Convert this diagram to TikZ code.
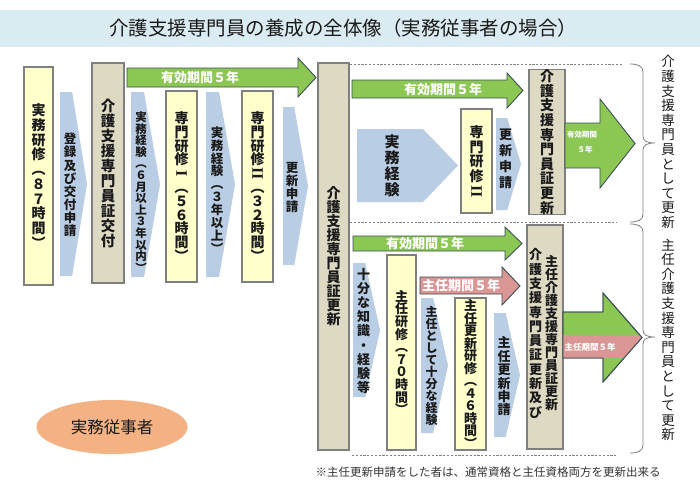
\documentclass[tikz,border=0pt]{standalone}
\usepackage{fontspec}
\setmainfont{Noto Sans CJK JP}
\newfontfamily\romanfont{Liberation Serif}
\usetikzlibrary{shapes.geometric}
\definecolor{ttl}{HTML}{DAEBF1}
\definecolor{ylw}{HTML}{FFFFCC}
\definecolor{tanc}{HTML}{DDD9C3}
\definecolor{chv}{HTML}{B9CDE5}
\definecolor{grn}{HTML}{8CC653}
\definecolor{pnk}{HTML}{D99694}
\definecolor{peach}{HTML}{F4B183}
\definecolor{bord}{HTML}{7F7F7F}
\definecolor{abord}{HTML}{3A4F55}
\definecolor{txt}{HTML}{1A1A1A}
\makeatletter
\def\vstack#1{\vstack@a#1\@nil}
\def\vstack@a#1{#1\vstack@b}
\def\vstack@b#1{\ifx\@nil#1\expandafter\@gobble\else\expandafter\@firstofone\fi{\\#1\vstack@b}}
\makeatother
\newcommand\rI{\smash{\rotatebox[origin=c]{-90}{\romanfont\bfseries\fontsize{16}{16}\selectfont I}}}
\newcommand\rII{\smash{\rotatebox[origin=c]{-90}{\romanfont\bfseries\fontsize{16}{16}\selectfont II}}}
% chevron: x1 y1 x2 y2
\newcommand\chev[4]{\fill[chv] (#1,#2) -- ({#1+0.45*(#3-#1)},#2) -- (#3,{(#2+#4)/2}) -- ({#1+0.45*(#3-#1)},#4) -- (#1,#4) -- cycle;}
% arrow: style x1 x2 xh bodytop bodybottom headtop headbottom
\newcommand\rarr[8]{\path[#1] (#2,#5) -- (#4,#5) -- (#4,#7) -- (#3,{(#7+#8)/2}) -- (#4,#8) -- (#4,#6) -- (#2,#6) -- cycle;}
\begin{document}
\begin{tikzpicture}[x=1pt,y=-1pt,
  every node/.style={inner sep=0pt,outer sep=0pt,text=txt},
  ybox/.style={draw=bord,line width=1.1pt,fill=ylw},
  tbox/.style={draw=bord,line width=1.1pt,fill=tanc},
  vt/.style 2 args={align=center,font=\fontsize{#1}{#2}\bfseries\selectfont},
  vr/.style 2 args={align=center,font=\fontsize{#1}{#2}\selectfont},
  garr/.style={fill=grn,draw=abord,line width=0.9pt},
  parr/.style={fill=pnk,draw=abord,line width=0.9pt},
  alab/.style={text=white,font=\fontsize{#1}{#1}\bfseries\selectfont},
  dashline/.style={draw=bord,line width=0.8pt,dash pattern=on 2.2pt off 1.6pt},
  brc/.style={draw=bord,line width=0.8pt}]
\useasboundingbox (0,0) rectangle (700,495);
\fill[white] (0,0) rectangle (700,495);
% title
\fill[ttl] (0,10) rectangle (700,47);
\node[font=\fontsize{19.5}{20}\selectfont] (title) at (343,28.5) {介護支援専門員の養成の全体像（実務従事者の場合）};
% ---------------- left part
\rarr{garr}{127}{316}{298}{68}{87}{58}{97}
\node[alab=13] (a1) at (200,77.5) {有効期間５年};
\node[ybox,minimum width=29pt,minimum height=218pt,vt={14}{14.7}] (jitsumu) at (38.5,176) {\vstack{実務研修︵８７時間︶}};
\chev{60}{92}{87}{276}
\node[vt={12.5}{13.1}] (toroku) at (70,185) {\vstack{登録及び交付申請}};
\node[tbox,minimum width=32pt,minimum height=220pt,vt={14.5}{15}] (kofu) at (108,173) {\vstack{介護支援専門員証交付}};
\chev{131}{92}{160}{277}
\node[vt={11.5}{11.6}] (keiken1) at (141,192) {\vstack{実務経験︵６月以上３年以内︶}};
\node[ybox,minimum width=31pt,minimum height=191pt,vt={14}{13.8}] (senmon1) at (181.5,186.5) {\vstack{専門研修\rI︵５６時間︶}};
\chev{206}{92}{235}{277}
\node[vt={12.5}{12.9}] (keiken2) at (217,190) {\vstack{実務経験︵３年以上︶}};
\node[ybox,minimum width=31pt,minimum height=191pt,vt={14}{13.8}] (senmon2) at (257.5,186.5) {\vstack{専門研修\rII︵３２時間︶}};
\chev{283}{107}{308}{265}
\node[vt={12.5}{13}] (koshin1) at (292,187) {\vstack{更新申請}};
\node[tbox,minimum width=31pt,minimum height=387pt,vt={14}{14}] (koshinbig) at (333.5,256.5) {\vstack{介護支援専門員証更新}};
% ---------------- upper right
\draw[dashline] (350,64) -- (623,64);
\draw[dashline] (350,222) -- (617,222);
\draw[dashline] (352,455) -- (617,455);
\rarr{garr}{352}{523}{507}{80}{98}{73}{108}
\node[alab=13] (a2) at (443,89.5) {有効期間５年};
\fill[chv] (357,129) -- (423,129) -- (458,165.5) -- (423,202) -- (357,202) -- cycle;
\node[vt={15}{16}] (keiken3) at (392,165.5) {\vstack{実務経験}};
\node[ybox,minimum width=31pt,minimum height=104pt,vt={14}{14.8}] (senmon3) at (476.5,161) {\vstack{専門研修\rII}};
\chev{496}{118}{521}{210}
\node[vt={13}{16}] (koshin2) at (505.5,159) {\vstack{更新申請}};
\node[tbox,minimum width=36pt,minimum height=144pt,vt={14}{14.6}] (koshin3) at (547,142) {\vstack{介護支援専門員証更新}};
\rarr{garr}{565}{635}{600}{123}{168}{99}{188}
\node[alab=7.5] (a3a) at (582,135) {有効期間};
\node[alab=7.5] (a3b) at (585,150) {５年};
% ---------------- lower right
\rarr{garr}{353}{522}{505}{236}{251}{227}{260}
\node[alab=13] (a4) at (425,243.5) {有効期間５年};
\chev{353}{263}{380}{397}
\node[vt={13}{14.2}] (juubun) at (363.5,331) {\vstack{十分な知識・経験等}};
\node[ybox,minimum width=29pt,minimum height=195pt,vt={13}{12.6}] (shunin) at (401.5,352.5) {\vstack{主任研修︵７０時間︶}};
\rarr{parr}{420}{520}{502}{277}{294}{267}{305}
\node[alab=13] (a5) at (461,285.5) {主任期間５年};
\chev{421}{298}{448}{433}
\node[vt={12}{12}] (shunin2) at (431.5,366) {\vstack{主任として十分な経験}};
\node[ybox,minimum width=31pt,minimum height=152pt,vt={13}{12.5}] (shuninkoshin) at (470.5,374) {\vstack{主任更新研修︵４６時間︶}};
\chev{494}{313}{520}{437}
\node[vt={13}{13.4}] (shuninshinsei) at (504,376.5) {\vstack{主任更新申請}};
\node[tbox,minimum width=36pt,minimum height=224pt] (dual) at (545,337) {};
\node[vt={13}{13}] (dualR) at (551.5,333.5) {\vstack{主任介護支援専門員証更新}};
\node[vt={13}{14.3}] (dualL) at (535.5,333.5) {\vstack{介護支援専門員証更新及び}};
\rarr{garr}{563}{642}{603}{312}{358}{293}{382}
\begin{scope}
\rarr{clip}{563}{642}{603}{312}{358}{293}{382}
\fill[pnk] (560,335) rectangle (650,358);
\end{scope}
\rarr{draw=abord,line width=0.9pt}{563}{642}{603}{312}{358}{293}{382}
\node[alab=8.5] (a6) at (590,347) {主任期間５年};
% braces
\draw[brc] (630,64) .. controls (638,64) and (643,66) .. (643,72) -- (643,136) .. controls (643,141) and (647,143) .. (655,143) .. controls (647,143) and (643,145) .. (643,150) -- (643,214) .. controls (643,220) and (638,222) .. (630,222);
\draw[brc] (630,224) .. controls (638,224) and (643,226) .. (643,232) -- (643,330) .. controls (643,335) and (647,337) .. (655,337) .. controls (647,337) and (643,339) .. (643,344) -- (643,445) .. controls (643,451) and (638,453) .. (630,453);
\node[vr={13.5}{14.6}] (lab1) at (668,142) {\vstack{介護支援専門員として更新}};
\node[vr={13.5}{14.6}] (lab2) at (668,340) {\vstack{主任介護支援専門員として更新}};
% note and ellipse
\node[font=\fontsize{11.5}{12}\selectfont,text=black!80] (note) at (488,472) {※主任更新申請をした者は、通常資格と主任資格両方を更新出来る};
\node[ellipse,fill=peach,minimum width=151pt,minimum height=54pt,font=\fontsize{16.5}{17}\selectfont] (jujisha) at (112,427) {実務従事者};
\end{tikzpicture}
\end{document}
